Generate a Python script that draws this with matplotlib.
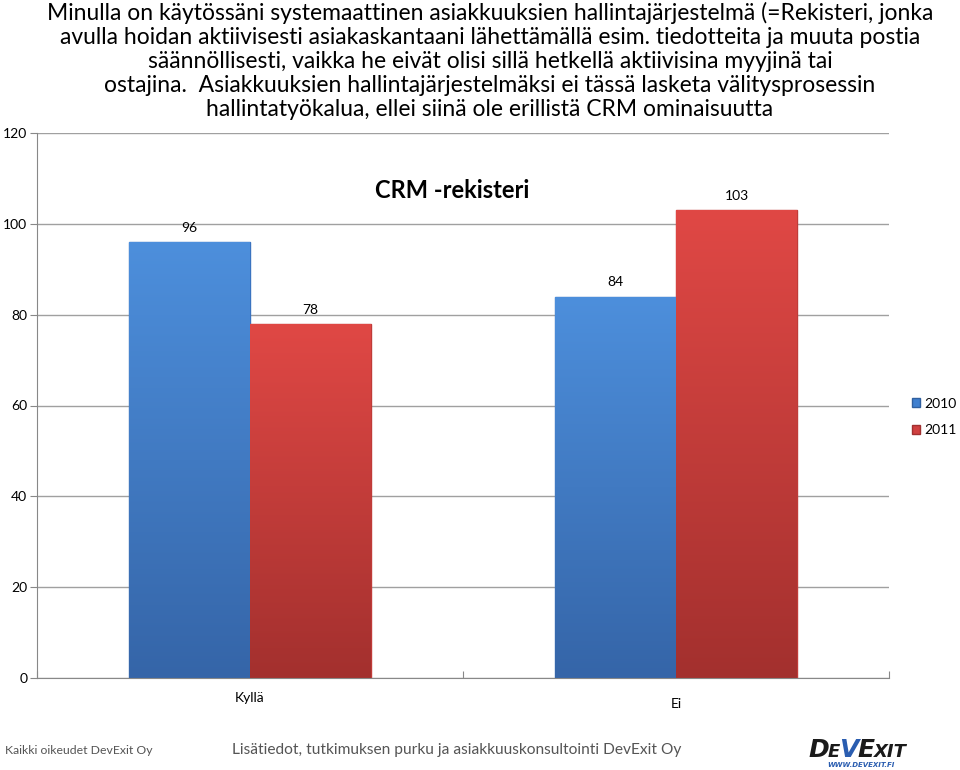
import numpy as np
import matplotlib.pyplot as plt
from matplotlib.patches import Patch
from matplotlib.colors import LinearSegmentedColormap

# data
categories = ["Kyllä", "Ei"]
series = ["2010", "2011"]
values_2010 = [96, 84]
values_2011 = [78, 103]

title_text = ("Minulla on käytössäni systemaattinen asiakkuuksien hallintajärjestelmä (=Rekisteri, jonka\n"
              "avulla hoidan aktiivisesti asiakaskantaani lähettämällä esim. tiedotteita ja muuta postia\n"
              "säännöllisesti, vaikka he eivät olisi sillä hetkellä aktiivisina myyjinä tai\n"
              "ostajina.  Asiakkuuksien hallintajärjestelmäksi ei tässä lasketa välitysprosessin\n"
              "hallintatyökalua, ellei siinä ole erillistä CRM ominaisuutta")

plt.rcParams['font.family'] = ['Lato', 'DejaVu Sans']

W, H = 960, 770
fig = plt.figure(figsize=(W / 100, H / 100), dpi=100)
ax = fig.add_axes([37 / W, 1 - 678 / H, (889 - 37) / W, (678 - 133) / H])

x = np.arange(len(categories))
width = 0.284
colors = {"2010": ("#3565a8", "#4d8fdc", "#3a73c0"), "2011": ("#a3302e", "#e04845", "#c03b38")}

for i, (name, vals) in enumerate(zip(series, [values_2010, values_2011])):
    bottom_c, top_c, edge_c = colors[name]
    cmap = LinearSegmentedColormap.from_list(name, [bottom_c, top_c])
    bars = ax.bar(x - width / 2 + i * width, vals, width, color=top_c, edgecolor=edge_c, linewidth=1, zorder=2)
    for b, v in zip(bars, vals):
        grad = np.linspace(0, 1, 256).reshape(-1, 1)
        im = ax.imshow(grad, cmap=cmap, origin='lower', aspect='auto', zorder=2.5,
                       extent=[b.get_x(), b.get_x() + b.get_width(), 0, v])
        im.set_clip_path(b)
        ax.annotate(str(v), (b.get_x() + b.get_width() / 2, v), xytext=(0, 14),
                    textcoords='offset pixels', ha='center', va='center', fontsize=10)

ax.set_xlim(-0.5, 1.5)
ax.set_ylim(0, 120)
ax.set_yticks(range(0, 121, 20))
ax.set_xticks([-0.5, 0.5, 1.5])
ax.set_xticklabels([])
ax.tick_params(axis='x', length=5, color='#888888', direction='in')
ax.tick_params(axis='y', length=5, color='#888888', labelsize=10, pad=2)
ax.grid(axis='y', color='#a0a0a0', linewidth=1, zorder=0)
ax.set_axisbelow(True)
for s in ['top', 'right']:
    ax.spines[s].set_visible(False)
for s in ['left', 'bottom']:
    ax.spines[s].set_color('#888888')

# category labels (slightly staggered as in the original)
for xi, cat, off in zip(x, categories, [-20, -26]):
    ax.annotate(cat, (xi, 0), xytext=(0, off), textcoords='offset pixels',
                ha='center', va='center', fontsize=10)

fig.text(452 / W, 1 - 190 / H, "CRM -rekisteri", ha='center', va='center', fontsize=17, fontweight='bold')

leg = ax.legend([Patch(facecolor='#4080d0', edgecolor='#3060a0'), Patch(facecolor='#d04040', edgecolor='#a03030')],
                series, loc='center left', bbox_to_anchor=(912 / W, 1 - 417 / H), bbox_transform=fig.transFigure,
                frameon=False, borderpad=0, borderaxespad=0, handlelength=0.6, handleheight=0.6,
                handletextpad=0.3, labelspacing=1.05, fontsize=10)

fig.text(490 / W, 1 - 2 / H, title_text, ha='center', va='top', fontsize=16.5, linespacing=1.18)

fig.text(5 / W, 1 - 750 / H, "Kaikki oikeudet DevExit Oy", ha='left', va='center', fontsize=8.8, color='#555555')
fig.text(232 / W, 1 - 750 / H, "Lisätiedot, tutkimuksen purku ja asiakkuuskonsultointi DevExit Oy",
         ha='left', va='center', fontsize=11.2, color='#555555')

# logo, pieces placed one after another
renderer = fig.canvas.get_renderer()
base = 1 - 757 / H
px = 808
for s, fs, c in [("D", 18, '#1a1a1a'), ("E", 13, '#1a1a1a'), ("V", 18, '#2a5db0'),
                 ("E", 18, '#1a1a1a'), ("XIT", 13, '#1a1a1a')]:
    t = fig.text(px / W, base, s, ha='left', va='baseline', fontsize=fs, fontweight='bold',
                 fontstyle='italic', color=c, family='DejaVu Sans')
    px = t.get_window_extent(renderer).x1 - 1
fig.text(861 / W, 1 - 765 / H, "WWW.DEVEXIT.FI", ha='center', va='center', fontsize=5,
         fontweight='bold', fontstyle='italic', color='#2a5db0', family='DejaVu Sans')

fig.savefig("out.png", dpi=100)
